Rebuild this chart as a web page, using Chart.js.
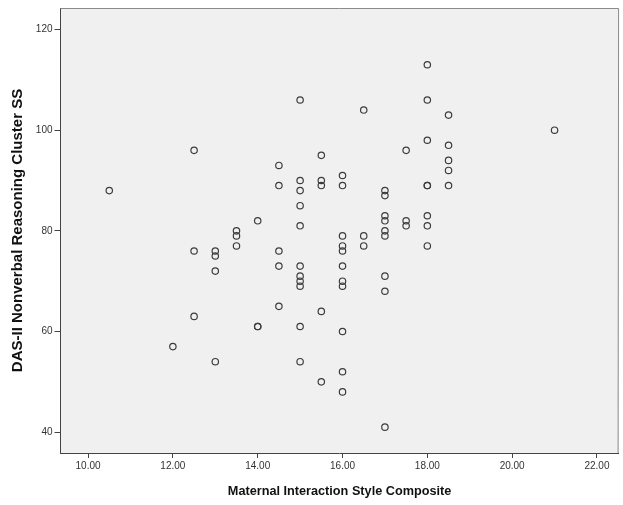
<!DOCTYPE html>
<html>
<head>
<meta charset="utf-8">
<script src="https://cdn.jsdelivr.net/npm/chart.js@4/dist/chart.umd.min.js"></script>
<style>
  html, body { margin: 0; padding: 0; background: #ffffff; }
  #wrap { width: 623px; height: 505px; position: relative; }
</style>
</head>
<body>
<div id="wrap"><canvas id="c" width="623" height="505"></canvas></div>
<script>
// Data
const xValues = [
  10.5,
  12,
  12.5, 12.5, 12.5,
  13, 13, 13, 13,
  13.5, 13.5, 13.5,
  14, 14, 14,
  14.5, 14.5, 14.5, 14.5, 14.5,
  15, 15, 15, 15, 15, 15, 15, 15, 15, 15, 15,
  15.5, 15.5, 15.5, 15.5, 15.5,
  16, 16, 16, 16, 16, 16, 16, 16, 16, 16, 16,
  16.5, 16.5, 16.5,
  17, 17, 17, 17, 17, 17, 17, 17, 17,
  17.5, 17.5, 17.5,
  18, 18, 18, 18, 18, 18, 18, 18,
  18.5, 18.5, 18.5, 18.5, 18.5,
  21
];
const yValues = [
  88,
  57,
  96, 76, 63,
  76, 75, 72, 54,
  80, 79, 77,
  82, 61, 61,
  93, 89, 76, 73, 65,
  106, 90, 88, 85, 81, 73, 71, 70, 69, 61, 54,
  95, 90, 89, 64, 50,
  91, 89, 79, 77, 76, 73, 70, 69, 60, 52, 48,
  104, 79, 77,
  88, 87, 83, 82, 80, 79, 71, 68, 41,
  96, 82, 81,
  113, 106, 98, 89, 89, 83, 81, 77,
  103, 97, 94, 92, 89,
  100
];
const xTicks = [10, 12, 14, 16, 18, 20, 22];
const yTicks = [40, 60, 80, 100, 120];
const xTitle = "Maternal Interaction Style Composite";
const yTitle = "DAS-II Nonverbal Reasoning Cluster SS";

const points = xValues.map((x, i) => ({ x: x, y: yValues[i] }));

const frameAndBg = {
  id: 'frameAndBg',
  beforeDraw(chart) {
    const { ctx, chartArea: a } = chart;
    ctx.save();
    ctx.fillStyle = '#f0f0f0';
    ctx.fillRect(a.left, a.top, a.right - a.left, a.bottom - a.top);
    ctx.restore();
  },
  afterDatasetsDraw(chart) {
    const { ctx, chartArea: a } = chart;
    ctx.save();
    ctx.strokeStyle = '#8a8a8a';
    ctx.lineWidth = 1;
    ctx.beginPath();
    ctx.moveTo(a.left, a.top + 0.5);
    ctx.lineTo(a.right, a.top + 0.5);
    ctx.lineTo(a.right - 0.5, a.bottom);
    ctx.stroke();
    ctx.restore();
  }
};

new Chart(document.getElementById('c'), {
  type: 'scatter',
  data: {
    datasets: [{
      data: points,
      showLine: false,
      pointStyle: 'circle',
      pointRadius: 3.2,
      pointHoverRadius: 3.2,
      pointBorderWidth: 1.2,
      pointBorderColor: '#3c3c3c',
      pointBackgroundColor: 'rgba(0,0,0,0)'
    }]
  },
  options: {
    responsive: false,
    animation: false,
    devicePixelRatio: 1,
    layout: { padding: { top: 4, right: 1, left: 0, bottom: 0 } },
    plugins: {
      legend: { display: false },
      tooltip: { enabled: false }
    },
    scales: {
      x: {
        type: 'linear',
        min: 9.35,
        max: 22.51,
        afterBuildTicks(scale) { scale.ticks = xTicks.map(v => ({ value: v })); },
        afterFit(scale) { scale.height = 52; },
        border: { display: true, color: '#444444', width: 1 },
        grid: { drawOnChartArea: false, drawTicks: true, tickLength: 5, color: '#444444' },
        ticks: {
          color: '#333333',
          font: { family: 'Liberation Sans, Arial, sans-serif', size: 10 },
          padding: 2,
          maxRotation: 0,
          autoSkip: false,
          callback: v => Number(v).toFixed(2)
        },
        title: {
          display: true,
          text: xTitle,
          color: '#111111',
          font: { family: 'Liberation Sans, Arial, sans-serif', size: 12.7, weight: 'bold' },
          padding: { top: 4, bottom: 6 }
        }
      },
      y: {
        type: 'linear',
        min: 35.86,
        max: 124.28,
        afterBuildTicks(scale) { scale.ticks = yTicks.map(v => ({ value: v })); },
        afterFit(scale) { scale.width = 60.5; },
        border: { display: true, color: '#444444', width: 1 },
        grid: { drawOnChartArea: false, drawTicks: true, tickLength: 6, color: '#444444' },
        ticks: {
          color: '#333333',
          font: { family: 'Liberation Sans, Arial, sans-serif', size: 10 },
          padding: 2,
          autoSkip: false,
          callback: v => String(v)
        },
        title: {
          display: true,
          text: yTitle,
          color: '#111111',
          font: { family: 'Liberation Sans, Arial, sans-serif', size: 15, weight: 'bold' },
          padding: { top: 9, bottom: 4 }
        }
      }
    }
  },
  plugins: [frameAndBg]
});
</script>
</body>
</html>
